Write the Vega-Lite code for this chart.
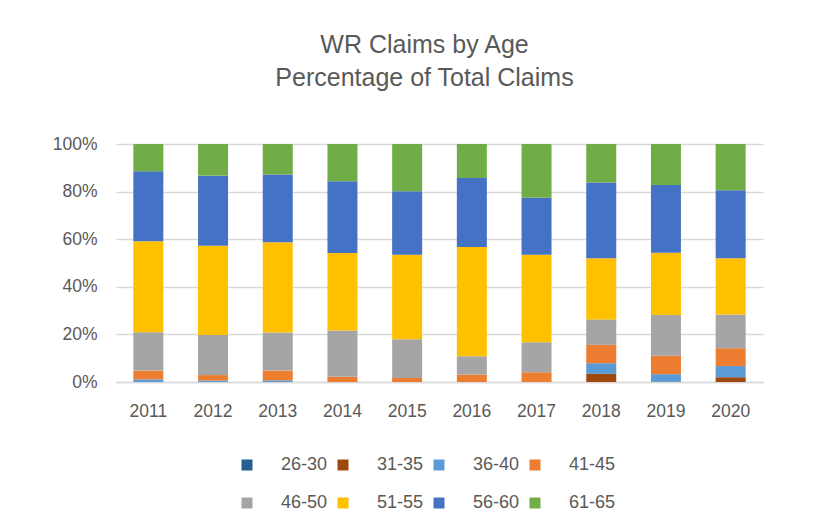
{
  "$schema": "https://vega.github.io/schema/vega-lite/v6.json",
  "autosize": "none",
  "width": 647,
  "height": 238,
  "padding": {"left": 116, "top": 144, "right": 62, "bottom": 143},
  "background": "white",
  "title": {
    "text": ["WR Claims by Age", "Percentage of Total Claims"],
    "font": "Liberation Sans",
    "fontSize": 25,
    "fontWeight": "normal",
    "color": "#595959",
    "lineHeight": 33,
    "anchor": "middle",
    "dx": -15,
    "offset": 44
  },
  "data": {
    "values": [
      {"year": "2011", "age": "36-40", "pct": 1.1},
      {"year": "2011", "age": "41-45", "pct": 3.7},
      {"year": "2011", "age": "46-50", "pct": 16.1},
      {"year": "2011", "age": "51-55", "pct": 38.2},
      {"year": "2011", "age": "56-60", "pct": 29.4},
      {"year": "2011", "age": "61-65", "pct": 11.5},
      {"year": "2012", "age": "36-40", "pct": 0.6},
      {"year": "2012", "age": "41-45", "pct": 2.3},
      {"year": "2012", "age": "46-50", "pct": 16.8},
      {"year": "2012", "age": "51-55", "pct": 37.6},
      {"year": "2012", "age": "56-60", "pct": 29.4},
      {"year": "2012", "age": "61-65", "pct": 13.3},
      {"year": "2013", "age": "36-40", "pct": 0.7},
      {"year": "2013", "age": "41-45", "pct": 4.1},
      {"year": "2013", "age": "46-50", "pct": 16.0},
      {"year": "2013", "age": "51-55", "pct": 37.9},
      {"year": "2013", "age": "56-60", "pct": 28.5},
      {"year": "2013", "age": "61-65", "pct": 12.8},
      {"year": "2014", "age": "41-45", "pct": 2.2},
      {"year": "2014", "age": "46-50", "pct": 19.4},
      {"year": "2014", "age": "51-55", "pct": 32.6},
      {"year": "2014", "age": "56-60", "pct": 30.1},
      {"year": "2014", "age": "61-65", "pct": 15.7},
      {"year": "2015", "age": "41-45", "pct": 1.7},
      {"year": "2015", "age": "46-50", "pct": 16.3},
      {"year": "2015", "age": "51-55", "pct": 35.5},
      {"year": "2015", "age": "56-60", "pct": 26.6},
      {"year": "2015", "age": "61-65", "pct": 19.9},
      {"year": "2016", "age": "41-45", "pct": 3.1},
      {"year": "2016", "age": "46-50", "pct": 7.7},
      {"year": "2016", "age": "51-55", "pct": 45.9},
      {"year": "2016", "age": "56-60", "pct": 29.0},
      {"year": "2016", "age": "61-65", "pct": 14.3},
      {"year": "2017", "age": "41-45", "pct": 4.1},
      {"year": "2017", "age": "46-50", "pct": 12.6},
      {"year": "2017", "age": "51-55", "pct": 36.8},
      {"year": "2017", "age": "56-60", "pct": 23.9},
      {"year": "2017", "age": "61-65", "pct": 22.6},
      {"year": "2018", "age": "31-35", "pct": 3.4},
      {"year": "2018", "age": "36-40", "pct": 4.5},
      {"year": "2018", "age": "41-45", "pct": 7.7},
      {"year": "2018", "age": "46-50", "pct": 10.7},
      {"year": "2018", "age": "51-55", "pct": 25.7},
      {"year": "2018", "age": "56-60", "pct": 31.8},
      {"year": "2018", "age": "61-65", "pct": 16.2},
      {"year": "2019", "age": "26-30", "pct": 0.2},
      {"year": "2019", "age": "36-40", "pct": 3.1},
      {"year": "2019", "age": "41-45", "pct": 7.7},
      {"year": "2019", "age": "46-50", "pct": 17.1},
      {"year": "2019", "age": "51-55", "pct": 26.2},
      {"year": "2019", "age": "56-60", "pct": 28.5},
      {"year": "2019", "age": "61-65", "pct": 17.2},
      {"year": "2020", "age": "31-35", "pct": 2.0},
      {"year": "2020", "age": "36-40", "pct": 4.7},
      {"year": "2020", "age": "41-45", "pct": 7.5},
      {"year": "2020", "age": "46-50", "pct": 14.2},
      {"year": "2020", "age": "51-55", "pct": 23.6},
      {"year": "2020", "age": "56-60", "pct": 28.6},
      {"year": "2020", "age": "61-65", "pct": 19.4}
    ]
  },
  "mark": {"type": "bar", "width": 30},
  "encoding": {
    "x": {
      "field": "year",
      "type": "ordinal",
      "title": null,
      "axis": {
        "labelAngle": 0,
        "labelFont": "Liberation Sans",
        "labelFontSize": 17.5,
        "labelColor": "#595959",
        "labelPadding": 20,
        "ticks": false,
        "domain": true,
        "domainColor": "#d9d9d9",
        "domainWidth": 1.5
      }
    },
    "y": {
      "field": "pct",
      "type": "quantitative",
      "stack": "normalize",
      "title": null,
      "scale": {"domain": [0, 1]},
      "axis": {
        "format": ".0%",
        "values": [0, 0.2, 0.4, 0.6, 0.8, 1],
        "labelFont": "Liberation Sans",
        "labelFontSize": 17.5,
        "labelColor": "#595959",
        "labelPadding": 19,
        "ticks": false,
        "domain": false,
        "grid": true,
        "gridColor": "#d9d9d9",
        "gridWidth": 1.5
      }
    },
    "color": {
      "field": "age",
      "type": "nominal",
      "title": null,
      "scale": {
        "domain": ["26-30", "31-35", "36-40", "41-45", "46-50", "51-55", "56-60", "61-65"],
        "range": ["#255E91", "#9E480E", "#5B9BD5", "#ED7D31", "#A5A5A5", "#FFC000", "#4472C4", "#70AD47"]
      },
      "legend": {
        "orient": "none",
        "legendX": 122,
        "legendY": 312,
        "direction": "horizontal",
        "columns": 4,
        "symbolType": "square",
        "symbolSize": 121,
        "symbolStrokeWidth": 0,
        "labelOffset": 25,
        "labelFont": "Liberation Sans",
        "labelFontSize": 18,
        "labelColor": "#595959",
        "columnPadding": 6,
        "rowPadding": 20
      }
    },
    "order": {"field": "age", "sort": "ascending"}
  },
  "config": {
    "view": {"stroke": null}
  }
}
